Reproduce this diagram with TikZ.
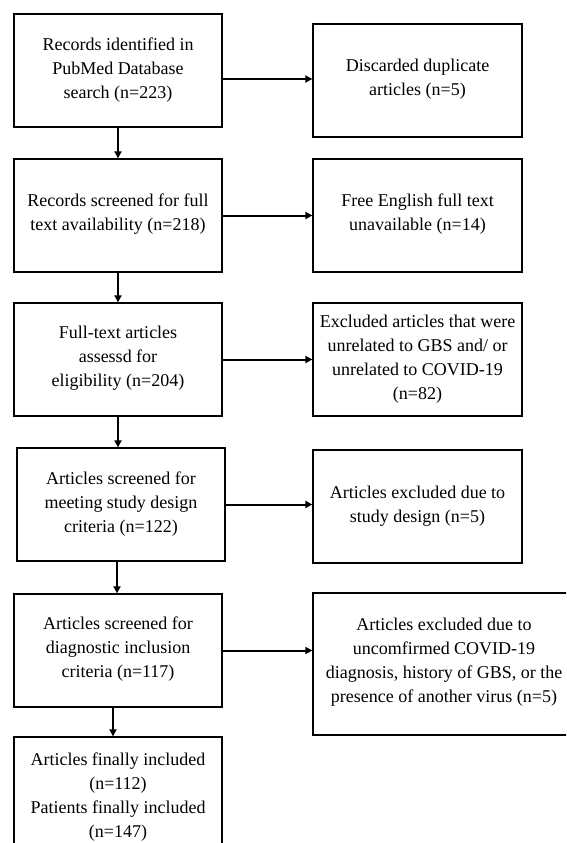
\documentclass[tikz,border=0pt]{standalone}
\usepackage{fontspec}
\setmainfont{Liberation Serif}
\usetikzlibrary{arrows.meta}

\tikzset{
    stagebox/.style={draw, line width=1.3pt, align=center, inner sep=0pt,
        minimum width=208pt, minimum height=113pt,
        font=\fontsize{18}{24}\selectfont},
    trailing/.style={execute at end node={\\\strut}},
    flowarrow/.style={line width=2pt, -{Triangle[length=7pt,width=7pt]}}
}

\begin{document}
\begin{tikzpicture}[x=1pt,y=-1pt]
    \useasboundingbox (0,0) rectangle (566,843);
    \clip (0,0) rectangle (566,843);

    % main stages
    \node[stagebox] (l1) at (118,70.5) {Records identified in\\PubMed Database\\search (n=223)};
    \node[stagebox, trailing] (l2) at (118,215.5) {Records screened for full\\text availability (n=218)};
    \node[stagebox, trailing] (l3) at (118,359.5) {Full-text articles\\assessd for\\eligibility (n=204)};
    \node[stagebox] (l4) at (121,504.5) {Articles screened for\\meeting study design\\criteria (n=122)};
    \node[stagebox, trailing] (l5) at (118,650.5) {Articles screened for\\diagnostic inclusion\\criteria (n=117)};
    \node[stagebox, minimum height=120pt] (l6) at (118,797) {Articles finally included\\(n=112)\\Patients finally included\\(n=147)};

    % exclusions
    \node[stagebox, minimum width=209pt, trailing] (r1) at (417.5,80.5) {Discarded duplicate\\articles (n=5)};
    \node[stagebox, minimum width=209pt, trailing] (r2) at (417.5,215.5) {Free English full text\\unavailable (n=14)};
    \node[stagebox, minimum width=209pt] (r3) at (417.5,359.5) {Excluded articles that were\\unrelated to GBS and/ or\\unrelated to COVID-19\\(n=82)};
    \node[stagebox, minimum width=209pt] (r4) at (417.5,506.5) {Articles excluded due to\\study design (n=5)};
    \node[stagebox, minimum width=262pt, minimum height=142pt, trailing] (r5) at (444,664) {Articles excluded due to\\uncomfirmed COVID-19\\diagnosis, history of GBS, or the\\presence of another virus (n=5)};

    % connectors
    \draw[flowarrow] (l1.south) -- (l2.north);
    \draw[flowarrow] (l2.south) -- (l3.north);
    \draw[flowarrow] (l3.south) -- (l3.south |- l4.north);
    \draw[flowarrow] ([xshift=-4pt]l4.south) -- ([xshift=-4pt]l4.south |- l5.north);
    \draw[flowarrow] ([xshift=-5pt]l5.south) -- ([xshift=-5pt]l6.north);

    \draw[flowarrow] ([yshift=-8.5pt]l1.east) -- ([yshift=-8.5pt]l1.east -| r1.west);
    \foreach \i in {2,...,5}
        \draw[flowarrow] (l\i.east) -- (l\i.east -| r\i.west);
\end{tikzpicture}
\end{document}
